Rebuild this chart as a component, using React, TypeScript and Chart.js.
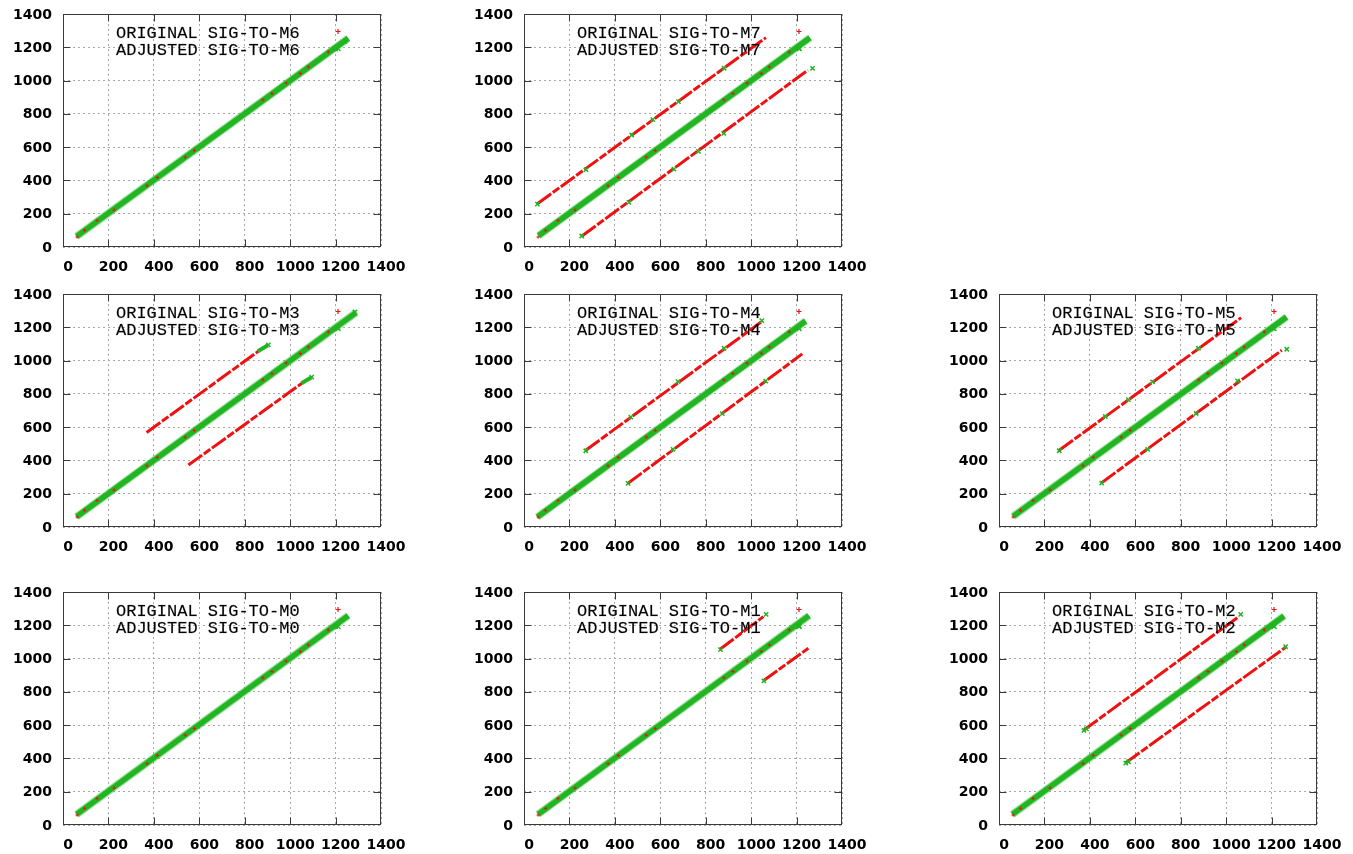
import React, { useEffect, useRef } from "react";
import { Chart, registerables } from "chart.js";

Chart.register(...registerables);

type P = { x: number; y: number };

// ---------- axis ----------
const axisMin = 0;
const axisMax = 1400;
const tickValues = [0, 200, 400, 600, 800, 1000, 1200, 1400];

// ---------- panel titles (grid order, null = empty slot) ----------
const panelNames: (string | null)[] = ["M6", "M7", null, "M3", "M4", "M5", "M0", "M1", "M2"];

// ---------- adjusted (green) main diagonal band: start / end ----------
const diagM6: P[] = [{ x: 60, y: 64 }, { x: 1256, y: 1254 }];
const diagM7: P[] = [{ x: 64, y: 68 }, { x: 1259, y: 1257 }];
const diagM3: P[] = [{ x: 60, y: 62 }, { x: 1290, y: 1288 }];
const diagM4: P[] = [{ x: 59, y: 60 }, { x: 1240, y: 1238 }];
const diagM5: P[] = [{ x: 62, y: 64 }, { x: 1266, y: 1262 }];
const diagM0: P[] = [{ x: 60, y: 64 }, { x: 1256, y: 1258 }];
const diagM1: P[] = [{ x: 62, y: 64 }, { x: 1255, y: 1258 }];
const diagM2: P[] = [{ x: 59, y: 64 }, { x: 1255, y: 1256 }];

// ---------- original (red) offset lines: start / end ----------
const upperM7: P[] = [{ x: 59, y: 260 }, { x: 1065, y: 1258 }];
const lowerM7: P[] = [{ x: 255, y: 66 }, { x: 1250, y: 1063 }];
const upperM3: P[] = [{ x: 368, y: 568 }, { x: 860, y: 1056 }];
const lowerM3: P[] = [{ x: 552, y: 372 }, { x: 1052, y: 864 }];
const upperM4: P[] = [{ x: 272, y: 461 }, { x: 1044, y: 1232 }];
const lowerM4: P[] = [{ x: 458, y: 263 }, { x: 1225, y: 1040 }];
const upperM5: P[] = [{ x: 265, y: 461 }, { x: 1066, y: 1258 }];
const lowerM5: P[] = [{ x: 452, y: 266 }, { x: 1245, y: 1062 }];
const upperM1: P[] = [{ x: 863, y: 1056 }, { x: 1054, y: 1252 }];
const lowerM1: P[] = [{ x: 1054, y: 867 }, { x: 1252, y: 1062 }];
const upperM2: P[] = [{ x: 374, y: 571 }, { x: 1049, y: 1245 }];
const lowerM2: P[] = [{ x: 558, y: 374 }, { x: 1262, y: 1068 }];

// ---------- green stubs continuing the red lines (M3) ----------
const stubUpperM3: P[] = [{ x: 858, y: 1056 }, { x: 902, y: 1092 }];
const stubLowerM3: P[] = [{ x: 1050, y: 864 }, { x: 1093, y: 898 }];

// ---------- scattered adjusted (green) markers on the offset lines ----------
const greenPtsM6: P[] = [{ x: 1200, y: 1190 }, { x: 1240, y: 1236 }];
const greenPtsM7: P[] = [
  { x: 59, y: 258 }, { x: 273, y: 465 }, { x: 474, y: 673 }, { x: 567, y: 765 },
  { x: 680, y: 873 }, { x: 881, y: 1074 }, { x: 254, y: 66 }, { x: 462, y: 268 },
  { x: 660, y: 468 }, { x: 768, y: 575 }, { x: 880, y: 683 }, { x: 1270, y: 1073 },
  { x: 1212, y: 1192 },
];
const greenPtsM3: P[] = [{ x: 1095, y: 900 }, { x: 904, y: 1094 }, { x: 1210, y: 1196 }, { x: 1285, y: 1292 }];
const greenPtsM4: P[] = [
  { x: 272, y: 458 }, { x: 470, y: 660 }, { x: 678, y: 873 }, { x: 881, y: 1074 },
  { x: 1047, y: 1240 }, { x: 458, y: 262 }, { x: 656, y: 467 }, { x: 873, y: 681 },
  { x: 1064, y: 877 }, { x: 1210, y: 1196 },
];
const greenPtsM5: P[] = [
  { x: 265, y: 458 }, { x: 468, y: 664 }, { x: 570, y: 765 }, { x: 676, y: 872 },
  { x: 878, y: 1074 }, { x: 452, y: 264 }, { x: 655, y: 467 }, { x: 868, y: 682 },
  { x: 1050, y: 878 }, { x: 1267, y: 1068 }, { x: 1205, y: 1195 },
];
const greenPtsM0: P[] = [{ x: 1200, y: 1192 }];
const greenPtsM1: P[] = [{ x: 865, y: 1054 }, { x: 1066, y: 1266 }, { x: 1056, y: 866 }, { x: 1212, y: 1195 }];
const greenPtsM2: P[] = [
  { x: 374, y: 568 }, { x: 385, y: 578 }, { x: 1064, y: 1266 }, { x: 558, y: 372 },
  { x: 570, y: 380 }, { x: 1262, y: 1072 }, { x: 1210, y: 1196 },
];

// ---------- visible original (red) specks on the diagonal ----------
const redSpecks: P[] = [
  { x: 62, y: 60 }, { x: 95, y: 100 }, { x: 150, y: 160 }, { x: 225, y: 222 },
  { x: 370, y: 368 }, { x: 415, y: 418 }, { x: 538, y: 540 },
  { x: 578, y: 580 }, { x: 880, y: 884 }, { x: 920, y: 922 }, { x: 982, y: 985 },
  { x: 1045, y: 1042 }, { x: 1080, y: 1082 }, { x: 1168, y: 1172 },
];

type PanelData = {
  diag: P[];
  red: P[][];
  stubs: P[][];
  green: P[];
};

const panelData: Record<string, PanelData> = {
  M6: { diag: diagM6, red: [], stubs: [], green: greenPtsM6 },
  M7: { diag: diagM7, red: [upperM7, lowerM7], stubs: [], green: greenPtsM7 },
  M3: { diag: diagM3, red: [upperM3, lowerM3], stubs: [stubUpperM3, stubLowerM3], green: greenPtsM3 },
  M4: { diag: diagM4, red: [upperM4, lowerM4], stubs: [], green: greenPtsM4 },
  M5: { diag: diagM5, red: [upperM5, lowerM5], stubs: [], green: greenPtsM5 },
  M0: { diag: diagM0, red: [], stubs: [], green: greenPtsM0 },
  M1: { diag: diagM1, red: [upperM1, lowerM1], stubs: [], green: greenPtsM1 },
  M2: { diag: diagM2, red: [upperM2, lowerM2], stubs: [], green: greenPtsM2 },
};

// ---------- layout ----------
const PLOT_W = 318;
const PLOT_H = 233;
const Y_AXIS_W = 60;
const X_AXIS_H = 28;
const PAD_TOP = 10;
const PAD_RIGHT = 30;
const colLefts = [63, 524, 999];
const rowTops = [14, 294, 592];

const RED = "#f01010";
const GREEN = "#22b422";
const GREEN_SOFT = "rgba(60,200,60,0.55)";

const framePlugin = {
  id: "gnuFrame",
  afterDraw(chart: any) {
    const { ctx, chartArea: a, scales } = chart;
    const L = Math.round(a.left) + 0.5;
    const R = Math.round(a.right) - 0.5;
    const T = Math.round(a.top) + 0.5;
    const B = Math.round(a.bottom) - 0.5;
    ctx.save();
    ctx.setLineDash([]);
    ctx.lineWidth = 1;
    ctx.strokeStyle = "#3a3a3a";
    ctx.strokeRect(L, T, R - L, B - T);
    const tl = 7;
    ctx.beginPath();
    for (const t of scales.x.ticks) {
      if (t.value <= axisMin || t.value >= axisMax) continue;
      const px = Math.round(scales.x.getPixelForValue(t.value)) + 0.5;
      ctx.moveTo(px, B);
      ctx.lineTo(px, B - tl);
      ctx.moveTo(px, T);
      ctx.lineTo(px, T + tl);
    }
    for (const t of scales.y.ticks) {
      if (t.value <= axisMin || t.value >= axisMax) continue;
      const py = Math.round(scales.y.getPixelForValue(t.value)) + 0.5;
      ctx.moveTo(L, py);
      ctx.lineTo(L + tl, py);
      ctx.moveTo(R, py);
      ctx.lineTo(R - tl, py);
    }
    ctx.stroke();

    // legend
    const name = chart.options.plugins.gnuFrame.name;
    ctx.fillStyle = "#000";
    ctx.strokeStyle = "rgba(0,0,0,0.35)";
    ctx.lineWidth = 0.4;
    ctx.font = '17px "Liberation Mono", "DejaVu Sans Mono", monospace';
    ctx.textAlign = "left";
    ctx.textBaseline = "alphabetic";
    const l1 = "ORIGINAL SIG-TO-" + name;
    const l2 = "ADJUSTED SIG-TO-" + name;
    ctx.fillText(l1, a.left + 53, a.top + 24);
    ctx.fillText(l2, a.left + 53, a.top + 41);
    ctx.strokeText(l1, a.left + 53, a.top + 24);
    ctx.strokeText(l2, a.left + 53, a.top + 41);
    // legend samples
    const sx = a.left + 275;
    ctx.lineWidth = 1.2;
    ctx.strokeStyle = RED;
    ctx.beginPath();
    ctx.moveTo(sx - 2.5, a.top + 17.5);
    ctx.lineTo(sx + 2.5, a.top + 17.5);
    ctx.moveTo(sx, a.top + 15);
    ctx.lineTo(sx, a.top + 20);
    ctx.stroke();
    ctx.strokeStyle = GREEN;
    ctx.beginPath();
    ctx.moveTo(sx - 2.5, a.top + 32);
    ctx.lineTo(sx + 2.5, a.top + 37);
    ctx.moveTo(sx + 2.5, a.top + 32);
    ctx.lineTo(sx - 2.5, a.top + 37);
    ctx.stroke();
    ctx.restore();
  },
};

function Panel({ name, left, top }: { name: string; left: number; top: number }) {
  const ref = useRef<HTMLCanvasElement | null>(null);
  useEffect(() => {
    if (!ref.current) return;
    const d = panelData[name];
    const datasets: any[] = [];
    d.red.forEach((seg) => {
      datasets.push({
        type: "line",
        data: seg,
        borderColor: RED,
        borderWidth: 3,
        borderDash: [17, 2, 8, 2],
        pointRadius: 0,
        order: 10,
      });
    });
    datasets.push({
      type: "line",
      data: d.diag,
      borderColor: GREEN_SOFT,
      borderWidth: 7.5,
      pointRadius: 0,
      order: 9,
    });
    datasets.push({
      type: "line",
      data: d.diag,
      borderColor: GREEN,
      borderWidth: 5.5,
      pointRadius: 0,
      order: 8,
    });
    d.stubs.forEach((seg) => {
      datasets.push({
        type: "line",
        data: seg,
        borderColor: GREEN,
        borderWidth: 4,
        pointRadius: 0,
        order: 7,
      });
    });
    datasets.push({
      type: "scatter",
      data: d.green,
      pointStyle: "crossRot",
      pointRadius: 3,
      borderColor: GREEN,
      borderWidth: 1.5,
      order: 6,
    });
    datasets.push({
      type: "scatter",
      data: redSpecks,
      pointStyle: "cross",
      pointRadius: 1.6,
      borderColor: RED,
      borderWidth: 1,
      order: 5,
    });

    const tickFont = { family: '"DejaVu Sans", sans-serif', size: 14, weight: "bold" as const };
    const chart = new Chart(ref.current, {
      type: "scatter",
      data: { datasets },
      options: {
        responsive: false,
        animation: false,
        events: [],
        layout: { padding: { top: PAD_TOP, right: PAD_RIGHT, left: 0, bottom: 0 } },
        plugins: {
          legend: { display: false },
          tooltip: { enabled: false },
          gnuFrame: { name },
        } as any,
        scales: {
          x: {
            type: "linear",
            min: axisMin,
            max: axisMax,
            afterBuildTicks: (s: any) => {
              s.ticks = tickValues.map((v) => ({ value: v }));
            },
            afterFit: (s: any) => {
              s.height = X_AXIS_H;
              s.paddingLeft = 0;
              s.paddingRight = 0;
            },
            ticks: {
              autoSkip: false,
              maxRotation: 0,
              minRotation: 0,
              padding: 12,
              labelOffset: 5,
              color: "#000",
              font: tickFont,
              callback: (v: any) => String(v),
            },
            grid: { color: "#a8a8a8", lineWidth: 1, drawTicks: false },
            border: { display: false, dash: [2, 3] },
          },
          y: {
            type: "linear",
            min: axisMin,
            max: axisMax,
            afterBuildTicks: (s: any) => {
              s.ticks = tickValues.map((v) => ({ value: v }));
            },
            afterFit: (s: any) => {
              s.width = Y_AXIS_W;
              s.paddingTop = 0;
              s.paddingBottom = 0;
            },
            ticks: {
              padding: 11,
              labelOffset: 1,
              color: "#000",
              font: tickFont,
              callback: (v: any) => String(v),
            },
            grid: { color: "#a8a8a8", lineWidth: 1, drawTicks: false },
            border: { display: false, dash: [2, 3] },
          },
        },
      },
      plugins: [framePlugin as any],
    });
    return () => chart.destroy();
  }, [name]);

  const w = Y_AXIS_W + PLOT_W + PAD_RIGHT;
  const h = PAD_TOP + PLOT_H + X_AXIS_H;
  return (
    <canvas
      ref={ref}
      width={w}
      height={h}
      style={{ position: "absolute", left: left - Y_AXIS_W, top: top - PAD_TOP, width: w, height: h }}
    />
  );
}

export default function App() {
  return (
    <div
      style={{
        position: "fixed",
        left: 0,
        top: 0,
        width: 1353,
        height: 854,
        overflow: "hidden",
        background: "#fff",
      }}
    >
      {panelNames.map((n, i) =>
        n ? <Panel key={n} name={n} left={colLefts[i % 3]} top={rowTops[Math.floor(i / 3)]} /> : null
      )}
    </div>
  );
}
